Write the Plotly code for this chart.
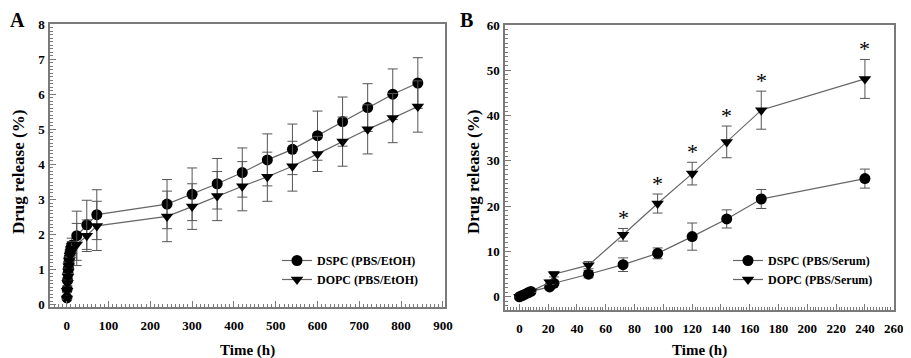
import plotly.graph_objects as go

# ---------------- Panel A data (PBS/EtOH) ----------------
a_time = [0.5, 1, 2, 3, 4, 5, 6, 8, 10, 12, 24, 48, 72, 240, 300, 360, 420, 480,
          540, 600, 660, 720, 780, 840]
a_dspc = [0.2, 0.45, 0.7, 0.9, 1.05, 1.2, 1.35, 1.5, 1.6, 1.7, 1.97, 2.28, 2.57,
          2.87, 3.15, 3.45, 3.77, 4.13, 4.43, 4.82, 5.22, 5.62, 6.0, 6.32]
a_dspc_err = [0.02, 0.05, 0.08, 0.1, 0.1, 0.12, 0.12, 0.15, 0.15, 0.2, 0.7, 0.7,
              0.71, 0.7, 0.75, 0.72, 0.7, 0.74, 0.72, 0.7, 0.7, 0.68, 0.72, 0.72]
a_dopc = [0.18, 0.4, 0.62, 0.8, 0.95, 1.1, 1.25, 1.4, 1.5, 1.6, 1.72, 1.97, 2.25,
          2.52, 2.8, 3.1, 3.38, 3.65, 3.95, 4.3, 4.65, 5.0, 5.32, 5.65]
a_dopc_err = [0.02, 0.05, 0.08, 0.1, 0.1, 0.12, 0.12, 0.15, 0.15, 0.2, 0.6, 0.45,
              0.7, 0.72, 0.65, 0.7, 0.7, 0.7, 0.71, 0.5, 0.7, 0.7, 0.7, 0.73]

# ---------------- Panel B data (PBS/Serum) ----------------
b_time = [0, 2, 4, 6, 8, 21, 24, 48, 72, 96, 120, 144, 168, 240]
b_dspc = [0, 0.3, 0.6, 0.9, 1.2, 2.2, 3.0, 5.0, 7.1, 9.6, 13.3, 17.2, 21.6, 26.1]
b_dspc_err = [0, 0.1, 0.1, 0.2, 0.2, 0.5, 0.5, 0.8, 1.5, 1.2, 3.0, 2.0, 2.1, 2.1]
b_dopc = [0, 0.3, 0.6, 0.9, 1.2, 3.2, 5.0, 7.0, 13.7, 20.6, 27.2, 34.2, 41.2, 48.1]
b_dopc_err = [0, 0.1, 0.1, 0.2, 0.2, 0.5, 0.6, 0.8, 1.4, 2.1, 2.5, 3.5, 4.2, 4.3]
sig_time = [72, 96, 120, 144, 168, 240]

x_ticks_a = list(range(0, 901, 100))
x_ticks_b = list(range(0, 261, 20))
y_ticks_a = list(range(0, 9))
y_ticks_b = list(range(0, 61, 10))

FONT = "Liberation Serif"
LINE_C = "#666666"
AX_C = "#7a7a7a"

# page body has an 8 px margin: figure is drawn 8 px right/down
OFF = 8
W, H = 911, 358


def fx(px):
    return (px - OFF) / W


def fy(py):
    return 1 - (py - OFF) / H


fig = go.Figure()


def add_series(x, y, err, name, symbol, size, xa, ya, legend):
    fig.add_trace(go.Scatter(
        x=x, y=y, name=name, mode="lines+markers", xaxis=xa, yaxis=ya,
        legend=legend,
        line=dict(color=LINE_C, width=1.2),
        marker=dict(symbol=symbol, size=size, color="black",
                    line=dict(width=0)),
        error_y=dict(type="data", array=err, visible=True, color="#555555",
                     thickness=1, width=5),
    ))


add_series(a_time, a_dspc, a_dspc_err, "DSPC (PBS/EtOH)", "circle", 11, "x", "y", "legend")
add_series(a_time, a_dopc, a_dopc_err, "DOPC (PBS/EtOH)", "triangle-down", 11, "x", "y", "legend")
add_series(b_time, b_dspc, b_dspc_err, "DSPC (PBS/Serum)", "circle", 11, "x2", "y2", "legend2")
add_series(b_time, b_dopc, b_dopc_err, "DOPC (PBS/Serum)", "triangle-down", 11, "x2", "y2", "legend2")

annotations = []
for t in sig_time:
    i = b_time.index(t)
    annotations.append(dict(
        x=t, y=b_dopc[i] + b_dopc_err[i], xref="x2", yref="y2", text="*",
        showarrow=False, xanchor="center", yanchor="bottom", yshift=-4,
        font=dict(family=FONT, size=22, color="black"),
    ))

title_font = dict(family=FONT, size=15, color="black", weight="bold")
ytitle_font = dict(family=FONT, size=17, color="black", weight="bold")
letter_font = dict(family=FONT, size=20, color="black", weight="bold")


def paper_text(text, px, py, font, angle=0):
    return dict(text=text, x=fx(px), y=fy(py), xref="paper", yref="paper",
                xanchor="center", yanchor="middle", showarrow=False,
                textangle=angle, font=font)


annotations += [
    paper_text("A", 17, 20, letter_font),
    paper_text("B", 466, 20, letter_font),
    paper_text("Time (h)", (50 + 445) / 2, 350, title_font),
    paper_text("Time (h)", (505 + 894) / 2, 350, title_font),
    paper_text("Drug release (%)", 18, 172, ytitle_font, -90),
    paper_text("Drug release (%)", 473, 172, ytitle_font, -90),
]

tick_font = dict(family=FONT, size=13, color="black", weight="bold")
common = dict(showline=True, mirror=True, linecolor=AX_C, linewidth=1.5,
              ticks="inside", tickcolor=AX_C, tickwidth=1, ticklen=6,
              showgrid=False, zeroline=False, tickfont=tick_font,
              automargin=False)

fig.update_layout(
    template="none",
    width=W, height=H,
    margin=dict(l=0, r=0, t=0, b=0, pad=0),
    paper_bgcolor="white", plot_bgcolor="white",
    font=dict(family=FONT, color="black"),
    annotations=annotations,
    xaxis=dict(domain=[fx(50), fx(445)], range=[-40, 905], tickvals=x_ticks_a,
               anchor="y", ticklabelstandoff=6,
               minor=dict(dtick=10, ticks="inside", ticklen=3, tickcolor=AX_C), **common),
    yaxis=dict(domain=[fy(307), fy(24)], range=[-0.06, 8], tickvals=y_ticks_a,
               anchor="x", ticklabelstandoff=1,
               minor=dict(dtick=0.1, ticks="inside", ticklen=3, tickcolor=AX_C), **common),
    xaxis2=dict(domain=[fx(505), fx(894)], range=[-10, 260.2], tickvals=x_ticks_b,
                anchor="y2", ticklabelstandoff=6,
                minor=dict(dtick=2, ticks="inside", ticklen=3, tickcolor=AX_C), **common),
    yaxis2=dict(domain=[fy(310), fy(25)], range=[-2.9, 60], tickvals=y_ticks_b,
                anchor="x2", ticklabelstandoff=1,
                minor=dict(dtick=1, ticks="inside", ticklen=3, tickcolor=AX_C), **common),
    legend=dict(x=fx(277), y=fy(246), xanchor="left", yanchor="top",
                bgcolor="rgba(0,0,0,0)", tracegroupgap=0,
                font=dict(family=FONT, size=12, color="black", weight="bold")),
    legend2=dict(x=fx(728), y=fy(246), xanchor="left", yanchor="top",
                 bgcolor="rgba(0,0,0,0)", tracegroupgap=0,
                 font=dict(family=FONT, size=12, color="black", weight="bold")),
    showlegend=True,
)

fig.write_html("out.html")
